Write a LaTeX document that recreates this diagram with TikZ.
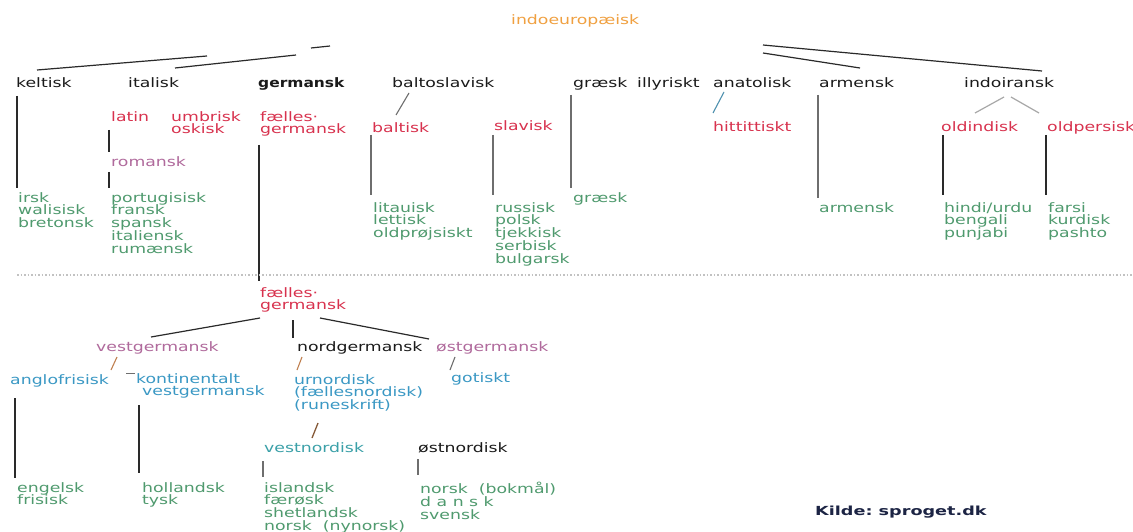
\documentclass[tikz,border=0pt]{standalone}
\usepackage{fontspec}
\setmainfont{DejaVu Sans}[FakeStretch=1.33]
\newfontfamily\kildefont{DejaVu Sans}[FakeStretch=1.41]
\newfontfamily\gerfont{DejaVu Sans}[FakeStretch=1.19]
\definecolor{orangeT}{HTML}{F0A040}
\definecolor{blackT}{HTML}{1A1A1A}
\definecolor{redT}{HTML}{D8324E}
\definecolor{purpleT}{HTML}{B06A9C}
\definecolor{greenT}{HTML}{4F9A6E}
\definecolor{blueT}{HTML}{3A98C4}
\definecolor{tealT}{HTML}{3AA0A8}
\definecolor{navyT}{HTML}{1C2444}
\definecolor{lineD}{HTML}{2A2A2A}
\definecolor{lineG}{HTML}{6E6E6E}
\definecolor{lineL}{HTML}{A8A8A8}
\definecolor{slashO}{HTML}{C08050}
\tikzset{
  lbl/.style={anchor=north west, inner sep=0pt, align=left, font=\fontsize{13}{12.8}\selectfont},
  thin link/.style={draw=lineD, line width=1.2pt},
  grey link/.style={draw=lineG, line width=1.4pt},
  light link/.style={draw=lineL, line width=1.2pt},
  stem/.style={draw=lineD, line width=2pt},
  gstem/.style={draw=lineG, line width=1.8pt},
}
\begin{document}
\begin{tikzpicture}[x=1pt,y=-1pt]
\useasboundingbox[fill=white] (0,0) rectangle (1133,532);

% ---------- root ----------
\node[lbl,text=orangeT] (ie) at (511,14) {indoeuropæisk};

% ---------- first row ----------
\node[lbl,text=blackT] (kel) at (16,77) {keltisk};
\node[lbl,text=blackT] (ita) at (128,77) {italisk};
\node[lbl,text=blackT,font=\fontsize{13}{12.8}\gerfont\bfseries] (ger) at (258,77) {germansk};
\node[lbl,text=blackT] (bal) at (392,77) {baltoslavisk};
\node[lbl,text=blackT] (gra) at (573,77) {græsk};
\node[lbl,text=blackT] (ill) at (637,77) {illyriskt};
\node[lbl,text=blackT] (ana) at (713,77) {anatolisk};
\node[lbl,text=blackT] (arm) at (819,77) {armensk};
\node[lbl,text=blackT] (ind) at (964,77) {indoiransk};

% ---------- second row ----------
\node[lbl,text=redT] (lat) at (111,111) {latin};
\node[lbl,text=redT] (umb) at (171,111) {umbrisk\\oskisk};
\node[lbl,text=redT] (fg1) at (260,111) {fælles·\\germansk};
\node[lbl,text=redT] (blt) at (372,122) {baltisk};
\node[lbl,text=redT] (sla) at (494,120) {slavisk};
\node[lbl,text=redT] (hit) at (713,121) {hittittiskt};
\node[lbl,text=redT] (oin) at (941,121) {oldindisk};
\node[lbl,text=redT] (ope) at (1047,121) {oldpersisk};
\node[lbl,text=purpleT] (rom) at (111,156) {romansk};

% ---------- modern languages ----------
\node[lbl,text=greenT] (kl) at (18,192) {irsk\\walisisk\\bretonsk};
\node[lbl,text=greenT] (rl) at (111,192) {portugisisk\\fransk\\spansk\\italiensk\\rumænsk};
\node[lbl,text=greenT] (bl) at (373,202) {litauisk\\lettisk\\oldprøjsiskt};
\node[lbl,text=greenT] (sl) at (495,202) {russisk\\polsk\\tjekkisk\\serbisk\\bulgarsk};
\node[lbl,text=greenT] (gl) at (573,192) {græsk};
\node[lbl,text=greenT] (al) at (819,202) {armensk};
\node[lbl,text=greenT] (il) at (944,202) {hindi/urdu\\bengali\\punjabi};
\node[lbl,text=greenT] (pl) at (1048,202) {farsi\\kurdisk\\pashto};

% ---------- germanic tree ----------
\node[lbl,text=redT] (fg2) at (260,287) {fælles·\\germansk};
\node[lbl,text=purpleT] (vg) at (96,341) {vestgermansk};
\node[lbl,text=blackT] (ng) at (297,341) {nordgermansk};
\node[lbl,text=purpleT] (og) at (436,341) {østgermansk};
\node[lbl,text=blueT] (af) at (10,374) {anglofrisisk};
\node[lbl,text=blueT] (kv) at (136,373) {kontinentalt\\\hspace*{6pt}vestgermansk};
\node[lbl,text=blueT] (un) at (294,374) {urnordisk\\(fællesnordisk)\\(runeskrift)};
\node[lbl,text=blueT] (got) at (451,372) {gotiskt};
\node[lbl,text=tealT] (vn) at (264,442) {vestnordisk};
\node[lbl,text=blackT] (on) at (418,442) {østnordisk};
\node[lbl,text=greenT] (afl) at (17,482) {engelsk\\frisisk};
\node[lbl,text=greenT] (kvl) at (142,482) {hollandsk\\tysk};
\node[lbl,text=greenT] (vnl) at (264,482) {islandsk\\færøsk\\shetlandsk\\norsk\ \ (nynorsk)};
\node[lbl,text=greenT] (onl) at (420,482) {norsk\ \ (bokmål)\\d a n s k\\svensk};

\node[lbl,text=navyT,font=\fontsize{12.5}{13}\kildefont\bfseries] (kilde) at (815,506) {Kilde:\ sproget.dk};

% ---------- coordinates for connector ends ----------
\coordinate (t1a) at (37,70);  \coordinate (t1b) at (207,56);
\coordinate (t2a) at (175,68); \coordinate (t2b) at (296,55);
\coordinate (t3a) at (311,48); \coordinate (t3b) at (330,46);
\coordinate (t4a) at (763,45); \coordinate (t4b) at (1042,71);
\coordinate (t5a) at (763,53); \coordinate (t5b) at (860,68);

\coordinate (kelA) at (17,96);   \coordinate (kelB) at (17,188);
\coordinate (latA) at (109,130); \coordinate (latB) at (109,152);
\coordinate (romA) at (109,172); \coordinate (romB) at (109,188);
\coordinate (gerA) at (259,145); \coordinate (gerB) at (259,281);
\coordinate (bltA) at (371,135); \coordinate (bltB) at (371,195);
\coordinate (slaA) at (493,135); \coordinate (slaB) at (493,195);
\coordinate (graA) at (571,95);  \coordinate (graB) at (571,188);
\coordinate (armA) at (818,95);  \coordinate (armB) at (818,198);
\coordinate (oinA) at (943,135); \coordinate (oinB) at (943,195);
\coordinate (opeA) at (1046,135);\coordinate (opeB) at (1046,195);
\coordinate (balA) at (409,93);  \coordinate (balB) at (396,115);
\coordinate (anaA) at (724,92);  \coordinate (anaB) at (713,113);
\coordinate (indA) at (1004,97); \coordinate (indB) at (975,113);
\coordinate (indC) at (1011,97); \coordinate (indD) at (1039,113);

\coordinate (dotA) at (17,275);  \coordinate (dotB) at (1133,275);

\coordinate (g1a) at (260,318); \coordinate (g1b) at (151,337);
\coordinate (g2a) at (293,320); \coordinate (g2b) at (293,338);
\coordinate (g3a) at (320,318); \coordinate (g3b) at (429,339);
\coordinate (vgA) at (117,357); \coordinate (vgB) at (111,370);
\coordinate (ngA) at (302,357); \coordinate (ngB) at (297,370);
\coordinate (ogA) at (455,357); \coordinate (ogB) at (450,370);
\coordinate (kdA) at (126,373); \coordinate (kdB) at (135,373);
\coordinate (afA) at (15,398);  \coordinate (afB) at (15,478);
\coordinate (kvA) at (139,405); \coordinate (kvB) at (139,473);
\coordinate (unA) at (318,423); \coordinate (unB) at (312,438);
\coordinate (vnA) at (263,461); \coordinate (vnB) at (263,477);
\coordinate (onA) at (418,459); \coordinate (onB) at (418,475);

% ---------- connectors ----------
\draw[thin link] (t1a) -- (t1b);
\draw[thin link] (t2a) -- (t2b);
\draw[thin link] (t3a) -- (t3b);
\draw[thin link] (t4a) -- (t4b);
\draw[thin link] (t5a) -- (t5b);

\draw[stem] (kelA) -- (kelB);
\draw[stem] (latA) -- (latB);
\draw[stem] (romA) -- (romB);
\draw[stem] (gerA) -- (gerB);
\draw[gstem] (bltA) -- (bltB);
\draw[gstem] (slaA) -- (slaB);
\draw[grey link] (graA) -- (graB);
\draw[grey link] (armA) -- (armB);
\draw[stem] (oinA) -- (oinB);
\draw[stem] (opeA) -- (opeB);
\draw[grey link,line width=1.1pt] (balA) -- (balB);
\draw[draw=blueT!70!gray,line width=1.1pt] (anaA) -- (anaB);
\draw[light link] (indA) -- (indB);
\draw[light link] (indC) -- (indD);

\draw[draw=lineL!70, line width=1.5pt, dotted] (dotA) -- (dotB);

\draw[thin link] (g1a) -- (g1b);
\draw[stem] (g2a) -- (g2b);
\draw[thin link] (g3a) -- (g3b);
\draw[draw=slashO,line width=1.1pt] (vgA) -- (vgB);
\draw[draw=slashO,line width=1.1pt] (ngA) -- (ngB);
\draw[grey link,line width=1.1pt] (ogA) -- (ogB);
\draw[grey link,line width=1pt] (kdA) -- (kdB);
\draw[stem,line width=2.4pt] (afA) -- (afB);
\draw[stem] (kvA) -- (kvB);
\draw[draw=slashO!70!black,line width=1.3pt] (unA) -- (unB);
\draw[gstem] (vnA) -- (vnB);
\draw[gstem] (onA) -- (onB);
\end{tikzpicture}
\end{document}
